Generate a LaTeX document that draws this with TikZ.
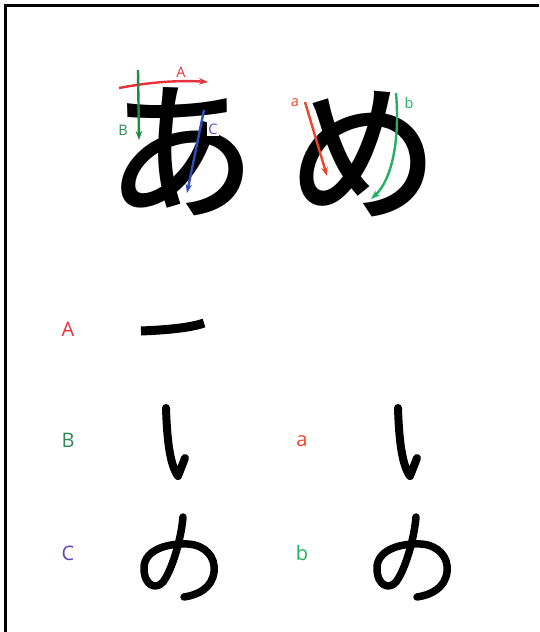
\documentclass[tikz,border=0pt]{standalone}
\usepackage{fontspec}
\setmainfont{Open Sans}
\newfontfamily\cjk{Noto Sans CJK JP}[BoldFont={* Medium}]
\usetikzlibrary{arrows.meta}
\definecolor{cA}{HTML}{E8303F}
\definecolor{cB}{HTML}{2E8A55}
\definecolor{cBarrow}{HTML}{1E8C3E}
\definecolor{cC}{HTML}{6244C0}
\definecolor{cCarrow}{HTML}{2E4FB5}
\definecolor{ca}{HTML}{EC4528}
\definecolor{cb}{HTML}{22B062}
\tikzset{
  bigchar/.style={font=\cjk\bfseries\fontsize{150}{150}\selectfont, inner sep=0pt, anchor=base},
  biglabel/.style={font=\fontsize{20}{20}\selectfont, inner sep=0pt},
  smalllabel/.style={font=\fontsize{14.5}{14.5}\selectfont, inner sep=0pt},
  pen/.style={line width=8.5pt, line cap=round, line join=round},
  guide/.style={line width=2.4pt, -{Stealth[length=9pt,width=6.5pt]}},
  frame/.style={line width=3pt}
}
\begin{document}
\begin{tikzpicture}[x=1pt,y=-1pt]
\useasboundingbox (0,0) rectangle (539,632);
\fill[white] (0,0) rectangle (539,632);
% frame (top and left edges)
\draw[frame] (5.5,632) -- (5.5,5.5) -- (539,5.5);

% big characters
\node[bigchar] (chA) at (181,207) {あ};
\node[bigchar] (chM) at (363,209) {め};

% guide arrows on あ
\coordinate (A1) at (119,88);
\coordinate (A2) at (208,82);
\draw[guide, cA] (A1) .. controls (150,82) and (180,80) .. (A2);
\node[smalllabel, text=cA] (lA) at (181,72) {A};
\coordinate (B1) at (138,70);
\coordinate (B2) at (139,140);
\draw[guide, cBarrow] (B1) -- (B2);
\node[smalllabel, text=cB] (lB) at (123,130) {B};
\coordinate (C1) at (204,110);
\coordinate (C2) at (187,193);
\node[smalllabel, text=cC, fill=white, inner sep=1.5pt] (lC) at (213,129) {C};
\draw[guide, cCarrow] (C1) -- (C2);

% guide arrows on め
\coordinate (a1) at (305,102);
\coordinate (a2) at (327,176);
\draw[guide, ca] (a1) -- (a2);
\node[smalllabel, text=ca] (la) at (295,103) {a};
\coordinate (b1) at (396,93);
\coordinate (b2) at (371,199);
\draw[guide, cb] (b1) .. controls (400,140) and (392,180) .. (b2);
\node[smalllabel, text=cb] (lb) at (409,103) {b};

% lower labels
\node[biglabel, text=cA] (LA) at (68,329) {A};
\node[biglabel, text=cB] (LB) at (68,440) {B};
\node[biglabel, text=cC] (LC) at (68,553) {C};
\node[biglabel, text=ca] (La) at (302,441) {a};
\node[biglabel, text=cb] (Lb) at (302,553) {b};

% stroke A
\draw[pen, line width=9pt, line cap=butt] (141,331) .. controls (165,330) and (190,328) .. (204,323);
% stroke B (left) and a (right)
\draw[pen, line width=8pt] (166,408) .. controls (167,440) and (170,465) .. (178,476) -- (185,458);
\begin{scope}[xshift=232pt]
\draw[pen, line width=8pt] (166,408) .. controls (167,440) and (170,465) .. (178,476) -- (185,458);
\end{scope}
% stroke C (left) and b (right)
\draw[pen, line width=7.5pt] (183,517) .. controls (181,540) and (172,570) .. (163,582)
  .. controls (156,590) and (144,586) .. (144,568)
  .. controls (144,551) and (165,543) .. (188,544)
  .. controls (205,545) and (216,557) .. (214,572)
  .. controls (212,588) and (198,595) .. (184,597);
\begin{scope}[xshift=233pt]
\draw[pen, line width=7.5pt] (183,517) .. controls (181,540) and (172,570) .. (163,582)
  .. controls (156,590) and (144,586) .. (144,568)
  .. controls (144,551) and (165,543) .. (188,544)
  .. controls (205,545) and (216,557) .. (214,572)
  .. controls (212,588) and (198,595) .. (184,597);
\end{scope}
\end{tikzpicture}
\end{document}
